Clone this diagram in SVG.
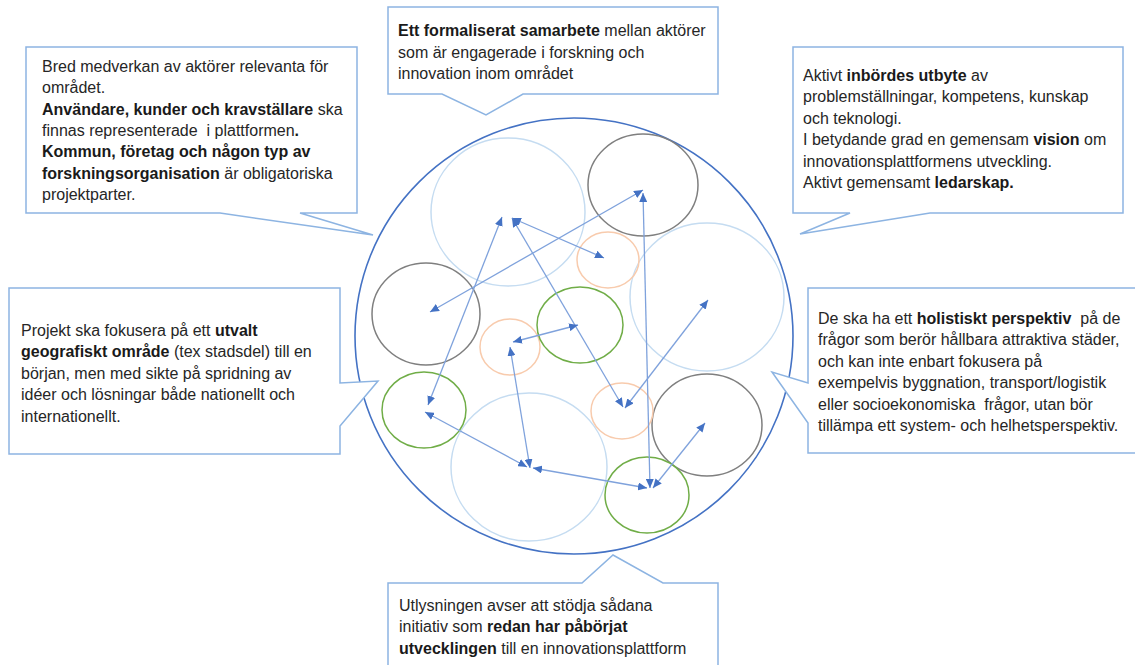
<svg xmlns="http://www.w3.org/2000/svg" width="1135" height="665" viewBox="0 0 1135 665">
<defs>
<marker id="ah" viewBox="0 0 9 8" refX="9" refY="4" markerWidth="9" markerHeight="8" markerUnits="userSpaceOnUse" orient="auto-start-reverse">
<path d="M0,0 L9,4 L0,8 Z" fill="#4472c4"/>
</marker>
<style>
.call{fill:#ffffff;stroke:#8db4e2;stroke-width:1.5;stroke-linejoin:miter}
.t{font-family:"Liberation Sans",Arial,sans-serif;font-size:16px;fill:#262626;white-space:pre}
.b{font-weight:bold;fill:#1a1a1a}
.gray{fill:none;stroke:#7f7f7f;stroke-width:1.5}
.lb{fill:none;stroke:#c5dcf1;stroke-width:1.5}
.or{fill:none;stroke:#f8cbad;stroke-width:1.5}
.gr{fill:none;stroke:#70ad47;stroke-width:1.5}
.ln{fill:none;stroke:#7fa2dc;stroke-width:1.3;marker-start:url(#ah);marker-end:url(#ah)}
</style>
</defs>
<rect width="1135" height="665" fill="#ffffff"/>

<g id="platform">
<ellipse cx="574" cy="336" rx="219" ry="218" fill="none" stroke="#4472c4" stroke-width="1.6"/>
<ellipse class="lb" cx="508" cy="212" rx="77" ry="74"/>
<ellipse class="lb" cx="707" cy="297" rx="77" ry="74"/>
<ellipse class="lb" cx="529" cy="467" rx="78" ry="74"/>
<ellipse class="gray" cx="643" cy="185" rx="55" ry="51"/>
<ellipse class="gray" cx="426" cy="314" rx="54" ry="51"/>
<ellipse class="gray" cx="707" cy="425" rx="55" ry="51"/>
<ellipse class="or" cx="608" cy="260" rx="31" ry="28"/>
<ellipse class="or" cx="510" cy="347" rx="30" ry="28"/>
<ellipse class="or" cx="622" cy="411" rx="31" ry="28"/>
<ellipse class="gr" cx="580" cy="325" rx="43" ry="38"/>
<ellipse class="gr" cx="424" cy="410" rx="42" ry="38"/>
<ellipse class="gr" cx="647" cy="495" rx="42" ry="38"/>
</g>

<g id="connectors">
<line class="ln" x1="428" y1="405" x2="502" y2="217"/>
<line class="ln" x1="512" y1="218" x2="604" y2="258"/>
<line class="ln" x1="512" y1="218" x2="623" y2="407"/>
<line class="ln" x1="643" y1="190" x2="430" y2="312"/>
<line class="ln" x1="643" y1="193" x2="650" y2="488"/>
<line class="ln" x1="625" y1="408" x2="708" y2="300"/>
<line class="ln" x1="513" y1="342" x2="578" y2="325"/>
<line class="ln" x1="510" y1="347" x2="530" y2="468"/>
<line class="ln" x1="425" y1="412" x2="527" y2="467"/>
<line class="ln" x1="533" y1="468" x2="647" y2="488"/>
<line class="ln" x1="653" y1="488" x2="705" y2="423"/>
</g>

<g id="callout-actors">
<path class="call" d="M26,47 H357 V213 H300 L373,235 L220,213 H26 Z"/>
<text class="t" x="42" y="72">Bred medverkan av aktörer relevanta för</text>
<text class="t" x="42" y="93.3">området.</text>
<text class="t" x="42" y="114.6"><tspan class="b">Användare, kunder och kravställare</tspan> ska</text>
<text class="t" x="42" y="135.9">finnas representerade  i plattformen<tspan class="b">.</tspan></text>
<text class="t" x="42" y="157.2"><tspan class="b">Kommun, företag och någon typ av</tspan></text>
<text class="t" x="42" y="178.5"><tspan class="b">forskningsorganisation</tspan> är obligatoriska</text>
<text class="t" x="42" y="199.8">projektparter.</text>
</g>

<g id="callout-formal">
<path class="call" d="M388,7 H718 V94 H523 L486,115 L442,94 H388 Z"/>
<text class="t" x="398" y="36"><tspan class="b">Ett formaliserat samarbete</tspan> mellan aktörer</text>
<text class="t" x="398" y="57.5">som är engagerade i forskning och</text>
<text class="t" x="398" y="79">innovation inom området</text>
</g>

<g id="callout-exchange">
<path class="call" d="M793,47 H1123 V213 H930 L800,234 L850,213 H793 Z"/>
<text class="t" x="803" y="80.5">Aktivt <tspan class="b">inbördes utbyte</tspan> av</text>
<text class="t" x="803" y="102">problemställningar, kompetens, kunskap</text>
<text class="t" x="803" y="123.5">och teknologi.</text>
<text class="t" x="803" y="145">I betydande grad en gemensam <tspan class="b">vision</tspan> om</text>
<text class="t" x="803" y="166.5">innovationsplattformens utveckling.</text>
<text class="t" x="803" y="188">Aktivt gemensamt <tspan class="b">ledarskap.</tspan></text>
</g>

<g id="callout-geo">
<path class="call" d="M9,288 H340 V383 L378,381 L340,426 V454 H9 Z"/>
<text class="t" x="21" y="335.5">Projekt ska fokusera på ett <tspan class="b">utvalt</tspan></text>
<text class="t" x="21" y="357"><tspan class="b">geografiskt område</tspan> (tex stadsdel) till en</text>
<text class="t" x="21" y="378.5">början, men med sikte på spridning av</text>
<text class="t" x="21" y="400">idéer och lösningar både nationellt och</text>
<text class="t" x="21" y="421.5">internationellt.</text>
</g>

<g id="callout-holistic">
<path class="call" d="M808,288 H1140 V453 H808 V423 L772,372 L808,383 Z"/>
<text class="t" x="818" y="323.5">De ska ha ett <tspan class="b">holistiskt perspektiv</tspan>  på de</text>
<text class="t" x="818" y="345">frågor som berör hållbara attraktiva städer,</text>
<text class="t" x="818" y="366.5">och kan inte enbart fokusera på</text>
<text class="t" x="818" y="388">exempelvis byggnation, transport/logistik</text>
<text class="t" x="818" y="409.5">eller socioekonomiska  frågor, utan bör</text>
<text class="t" x="818" y="431">tillämpa ett system- och helhetsperspektiv.</text>
</g>

<g id="callout-call">
<path class="call" d="M388,583 H582 L613,555 L663,583 H718 V672 H388 Z"/>
<text class="t" x="399" y="610.5">Utlysningen avser att stödja sådana</text>
<text class="t" x="399" y="632">initiativ som <tspan class="b">redan har påbörjat</tspan></text>
<text class="t" x="399" y="653.5"><tspan class="b">utvecklingen</tspan> till en innovationsplattform</text>
</g>
</svg>
